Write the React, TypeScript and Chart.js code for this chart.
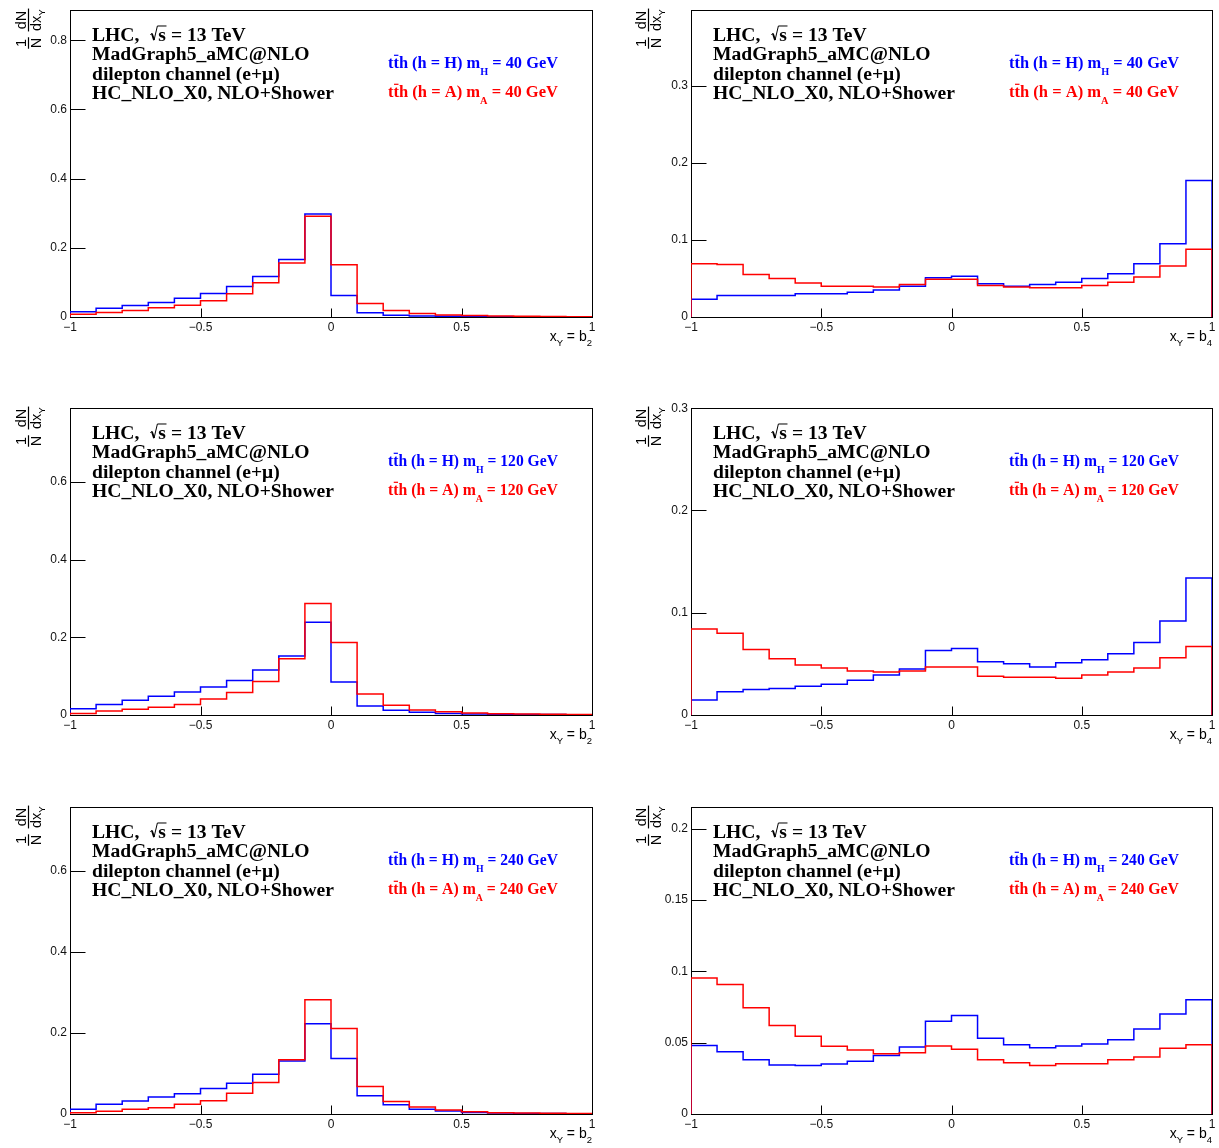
import React, { useEffect, useRef } from 'react';
import { Chart, registerables } from 'chart.js';

Chart.register(...registerables);

// ---------- data ----------
const BIN_EDGES = [-1, -0.9, -0.8, -0.7, -0.6, -0.5, -0.4, -0.3, -0.2, -0.1, 0, 0.1, 0.2, 0.3, 0.4, 0.5, 0.6, 0.7, 0.8, 0.9, 1];

const X_TICKS = [-1, -0.5, 0, 0.5, 1];
const X_TICK_LABELS = ['\u22121', '\u22120.5', '0', '0.5', '1'];

// b2, m = 40 GeV
const B2_M40_H = [0.015, 0.025, 0.033, 0.042, 0.054, 0.068, 0.088, 0.117, 0.166, 0.298, 0.062, 0.012, 0.005, 0.003, 0.002, 0.001, 0.001, 0.0005, 0.0005, 0.0003];
const B2_M40_A = [0.008, 0.013, 0.019, 0.027, 0.034, 0.047, 0.067, 0.099, 0.156, 0.291, 0.151, 0.039, 0.019, 0.010, 0.006, 0.004, 0.003, 0.002, 0.0015, 0.001];
// b4, m = 40 GeV
const B4_M40_H = [0.023, 0.028, 0.028, 0.028, 0.030, 0.030, 0.032, 0.035, 0.040, 0.051, 0.053, 0.043, 0.040, 0.042, 0.045, 0.050, 0.056, 0.069, 0.095, 0.177];
const B4_M40_A = [0.069, 0.068, 0.055, 0.050, 0.044, 0.040, 0.040, 0.039, 0.042, 0.049, 0.049, 0.041, 0.039, 0.038, 0.038, 0.041, 0.045, 0.052, 0.066, 0.088];
// b2, m = 120 GeV
const B2_M120_H = [0.016, 0.027, 0.038, 0.048, 0.059, 0.072, 0.089, 0.116, 0.152, 0.239, 0.085, 0.023, 0.012, 0.007, 0.004, 0.0025, 0.0015, 0.001, 0.001, 0.0005];
const B2_M120_A = [0.004, 0.010, 0.015, 0.020, 0.027, 0.041, 0.058, 0.086, 0.145, 0.287, 0.187, 0.054, 0.025, 0.013, 0.0085, 0.005, 0.0035, 0.0025, 0.002, 0.001];
// b4, m = 120 GeV
const B4_M120_H = [0.0146, 0.0227, 0.025, 0.026, 0.028, 0.030, 0.034, 0.039, 0.045, 0.063, 0.065, 0.052, 0.050, 0.047, 0.051, 0.054, 0.060, 0.071, 0.092, 0.134];
const B4_M120_A = [0.084, 0.080, 0.064, 0.055, 0.049, 0.046, 0.043, 0.042, 0.043, 0.047, 0.047, 0.038, 0.037, 0.037, 0.036, 0.039, 0.042, 0.046, 0.056, 0.067];
// b2, m = 240 GeV
const B2_M240_H = [0.012, 0.024, 0.032, 0.042, 0.050, 0.063, 0.076, 0.098, 0.131, 0.223, 0.137, 0.045, 0.023, 0.012, 0.0075, 0.004, 0.0025, 0.0015, 0.001, 0.0005];
const B2_M240_A = [0.003, 0.0065, 0.0115, 0.0155, 0.024, 0.033, 0.051, 0.078, 0.134, 0.282, 0.211, 0.068, 0.031, 0.017, 0.010, 0.0057, 0.003, 0.0025, 0.0016, 0.001];
// b4, m = 240 GeV
const B4_M240_H = [0.048, 0.0437, 0.038, 0.0344, 0.034, 0.035, 0.037, 0.041, 0.047, 0.065, 0.069, 0.053, 0.0486, 0.0465, 0.0477, 0.049, 0.052, 0.0595, 0.070, 0.080];
const B4_M240_A = [0.0953, 0.0907, 0.0744, 0.062, 0.0544, 0.0474, 0.0449, 0.0423, 0.043, 0.0477, 0.0453, 0.038, 0.036, 0.034, 0.0353, 0.0353, 0.038, 0.040, 0.046, 0.0486];

const Y_TICKS_08 = [0, 0.2, 0.4, 0.6, 0.8];
const Y_LABELS_08 = ['0', '0.2', '0.4', '0.6', '0.8'];
const Y_TICKS_06 = [0, 0.2, 0.4, 0.6];
const Y_LABELS_06 = ['0', '0.2', '0.4', '0.6'];
const Y_TICKS_03 = [0, 0.1, 0.2, 0.3];
const Y_LABELS_03 = ['0', '0.1', '0.2', '0.3'];
const Y_TICKS_02 = [0, 0.05, 0.1, 0.15, 0.2];
const Y_LABELS_02 = ['0', '0.05', '0.1', '0.15', '0.2'];

const INFO_LINES = ['LHC,', 'MadGraph5_aMC@NLO', 'dilepton channel (e+\u03bc)', 'HC_NLO_X0, NLO+Shower'];

interface PanelCfg {
  col: number;
  row: number;
  hH: number[];
  hA: number[];
  yMax: number;
  yTicks: number[];
  yLabels: string[];
  mass: string;
  obs: string;
}

const PANELS: PanelCfg[] = [
  { col: 0, row: 0, hH: B2_M40_H, hA: B2_M40_A, yMax: 0.887, yTicks: Y_TICKS_08, yLabels: Y_LABELS_08, mass: '40', obs: '2' },
  { col: 1, row: 0, hH: B4_M40_H, hA: B4_M40_A, yMax: 0.398, yTicks: Y_TICKS_03, yLabels: Y_LABELS_03, mass: '40', obs: '4' },
  { col: 0, row: 1, hH: B2_M120_H, hA: B2_M120_A, yMax: 0.79, yTicks: Y_TICKS_06, yLabels: Y_LABELS_06, mass: '120', obs: '2' },
  { col: 1, row: 1, hH: B4_M120_H, hA: B4_M120_A, yMax: 0.3, yTicks: Y_TICKS_03, yLabels: Y_LABELS_03, mass: '120', obs: '4' },
  { col: 0, row: 2, hH: B2_M240_H, hA: B2_M240_A, yMax: 0.758, yTicks: Y_TICKS_06, yLabels: Y_LABELS_06, mass: '240', obs: '2' },
  { col: 1, row: 2, hH: B4_M240_H, hA: B4_M240_A, yMax: 0.215, yTicks: Y_TICKS_02, yLabels: Y_LABELS_02, mass: '240', obs: '4' },
];

// ---------- layout ----------
const COL_LEFT = [0, 620];
const COL_W = [610, 599];
const Y_AXIS_W = [70, 71];
const PAD_RIGHT = [18, 7];
const ROW_TOP = [0, 398, 797];
const CANVAS_H = 351;

const SANS = '"Liberation Sans", Arial, Helvetica, sans-serif';
const SERIF = '"Liberation Serif", "Times New Roman", Times, serif';

interface Seg { t: string; sub?: boolean; bar?: boolean; sqrt?: boolean }
interface RichOpts {
  size: number; subSize: number; subDy: number; family: string; weight: string; color: string;
  width?: number; align?: 'left' | 'right';
}

function drawRich(ctx: CanvasRenderingContext2D, segs: Seg[], x: number, y: number, o: RichOpts) {
  const fm = `${o.weight} ${o.size}px ${o.family}`;
  const fs = `${o.weight} ${o.subSize}px ${o.family}`;
  const S = o.size;
  const radW = 0.47 * S;
  const widths = segs.map((s) => {
    ctx.font = s.sub ? fs : fm;
    return ctx.measureText(s.t).width + (s.sqrt ? radW : 0);
  });
  const total = widths.reduce((p, c) => p + c, 0);
  const k = o.width ? o.width / total : 1;
  const startX = o.align === 'right' ? x - total * k : x;
  ctx.save();
  ctx.translate(startX, y);
  ctx.scale(k, 1);
  ctx.fillStyle = o.color;
  ctx.strokeStyle = o.color;
  ctx.textAlign = 'left';
  ctx.textBaseline = 'alphabetic';
  let cx = 0;
  segs.forEach((s, i) => {
    ctx.font = s.sub ? fs : fm;
    let tx = cx;
    if (s.sqrt) {
      const o0 = cx + 0.06 * S;
      ctx.lineCap = 'butt';
      ctx.beginPath();
      ctx.lineWidth = 1;
      ctx.moveTo(o0, -0.30 * S);
      ctx.lineTo(o0 + 0.08 * S, -0.36 * S);
      ctx.stroke();
      ctx.beginPath();
      ctx.lineWidth = 1.8;
      ctx.moveTo(o0 + 0.08 * S, -0.36 * S);
      ctx.lineTo(o0 + 0.19 * S, -0.02 * S);
      ctx.stroke();
      ctx.beginPath();
      ctx.lineWidth = 1;
      ctx.moveTo(o0 + 0.19 * S, -0.02 * S);
      ctx.lineTo(o0 + 0.36 * S, -0.74 * S);
      ctx.lineTo(cx + widths[i] + 0.5, -0.74 * S);
      ctx.stroke();
      tx = cx + radW;
    }
    ctx.fillText(s.t, tx, s.sub ? o.subDy : 0);
    if (s.bar) ctx.fillRect(tx + 0.5, -0.8 * S, widths[i] - 1, 1.2);
    cx += widths[i];
  });
  ctx.restore();
}

function histPoints(values: number[]) {
  const pts = [{ x: BIN_EDGES[0], y: 0 }];
  values.forEach((v, i) => pts.push({ x: BIN_EDGES[i], y: v }));
  pts.push({ x: BIN_EDGES[values.length], y: 0 });
  return pts;
}

function makeDeco(cfg: PanelCfg) {
  return {
    id: 'deco',
    beforeDatasetsDraw(chart: any) {
      const { ctx, chartArea: a, scales } = chart;
      ctx.save();
      ctx.strokeStyle = '#000';
      ctx.lineWidth = 1;
      const l = Math.round(a.left) + 0.5;
      const t = Math.round(a.top) + 0.5;
      const r = Math.round(a.right) + 0.5;
      const b = Math.round(a.bottom) + 0.5;
      ctx.strokeRect(l, t, r - l, b - t);
      ctx.beginPath();
      cfg.yTicks.forEach((v) => {
        const py = Math.round(scales.y.getPixelForValue(v)) + 0.5;
        ctx.moveTo(l, py);
        ctx.lineTo(l + 15, py);
      });
      X_TICKS.forEach((v) => {
        const px = Math.round(scales.x.getPixelForValue(v)) + 0.5;
        ctx.moveTo(px, b);
        ctx.lineTo(px, b - 9);
      });
      ctx.stroke();
      ctx.restore();
    },
    afterDraw(chart: any) {
      const { ctx, chartArea: a } = chart;
      ctx.save();
      // info block
      const ix = a.left + 22;
      const infoOpts = { size: 19.6, subSize: 12, subDy: 6, family: SERIF, weight: 'bold', color: '#000' };
      drawRich(ctx, [{ t: INFO_LINES[0] + '  ' }, { t: 's', sqrt: true }, { t: ' = 13 TeV' }], ix, 40.5, infoOpts);
      [1, 2, 3].forEach((i) => {
        drawRich(ctx, [{ t: INFO_LINES[i] }], ix, 40.5 + i * 19.6, infoOpts);
      });
      // legend
      const lx = a.left + 318;
      const legOpts = { size: 16, subSize: 10, subDy: 7.5, family: SERIF, weight: 'bold', width: 170 };
      drawRich(ctx, [{ t: 't' }, { t: 't', bar: true }, { t: 'h (h = H) m' }, { t: 'H', sub: true }, { t: ' = ' + cfg.mass + ' GeV' }],
        lx, 67.5, { ...legOpts, color: '#0000ff' });
      drawRich(ctx, [{ t: 't' }, { t: 't', bar: true }, { t: 'h (h = A) m' }, { t: 'A', sub: true }, { t: ' = ' + cfg.mass + ' GeV' }],
        lx, 96.5, { ...legOpts, color: '#ff0000' });
      // x-axis title
      drawRich(ctx, [{ t: 'x' }, { t: 'Y', sub: true }, { t: ' = b' }, { t: cfg.obs, sub: true }], a.right, 341,
        { size: 14, subSize: 9.5, subDy: 4.5, family: SANS, weight: 'normal', color: '#000', align: 'right' });
      // y-axis title (rotated fraction)
      const bx = 28.5;
      const F = 14.5;
      const cap = 0.716 * F;
      ctx.translate(bx, 0);
      ctx.rotate(-Math.PI / 2);
      ctx.fillStyle = '#000';
      ctx.textBaseline = 'alphabetic';
      ctx.textAlign = 'center';
      ctx.font = `${F}px ${SANS}`;
      const c1 = -43;
      const c2 = -20;
      ctx.fillText('1', c1, -2.5);
      ctx.fillText('N', c1, 2.5 + cap);
      const wN = ctx.measureText('N').width;
      ctx.fillRect(c1 - wN / 2 - 0.5, -0.6, wN + 1, 1.2);
      ctx.fillText('dN', c2, -2.5);
      const wdx = ctx.measureText('dx').width;
      ctx.font = `${F * 0.68}px ${SANS}`;
      const wY = ctx.measureText('Y').width;
      const wTot = wdx + wY;
      const st = c2 - wTot / 2;
      ctx.textAlign = 'left';
      ctx.font = `${F}px ${SANS}`;
      ctx.fillText('dx', st, 2.5 + cap);
      ctx.font = `${F * 0.68}px ${SANS}`;
      ctx.fillText('Y', st + wdx, 2.5 + cap + 3.5);
      ctx.fillRect(st - 0.5, -0.6, wTot + 1, 1.2);
      ctx.restore();
    },
  };
}

function PanelChart({ cfg }: { cfg: PanelCfg }) {
  const ref = useRef<HTMLCanvasElement>(null);
  const w = COL_W[cfg.col];
  useEffect(() => {
    if (!ref.current) return;
    const chart = new Chart(ref.current, {
      type: 'line',
      data: {
        datasets: [
          {
            data: histPoints(cfg.hA),
            borderColor: '#ff0000',
            borderWidth: 1.5,
            stepped: 'before',
            pointRadius: 0,
            fill: false,
            tension: 0,
          },
          {
            data: histPoints(cfg.hH),
            borderColor: '#0000ff',
            borderWidth: 1.5,
            stepped: 'before',
            pointRadius: 0,
            fill: false,
            tension: 0,
          },
        ],
      },
      options: {
        responsive: false,
        maintainAspectRatio: false,
        animation: false,
        events: [],
        layout: { padding: { top: 8, right: PAD_RIGHT[cfg.col], left: 0, bottom: 0 } },
        plugins: { legend: { display: false }, tooltip: { enabled: false } },
        scales: {
          x: {
            type: 'linear',
            min: -1,
            max: 1,
            afterBuildTicks: (s: any) => { s.ticks = X_TICKS.map((v) => ({ value: v })); },
            afterFit: (s: any) => { s.height = CANVAS_H - 317; },
            grid: { display: false, drawTicks: false },
            border: { display: false },
            ticks: {
              autoSkip: false,
              maxRotation: 0,
              padding: 3,
              color: '#111',
              font: { family: SANS, size: 12 },
              callback: (_v: any, i: number) => X_TICK_LABELS[i],
            },
          },
          y: {
            type: 'linear',
            min: 0,
            max: cfg.yMax,
            afterBuildTicks: (s: any) => { s.ticks = cfg.yTicks.map((v) => ({ value: v })); },
            afterFit: (s: any) => { s.width = Y_AXIS_W[cfg.col]; },
            grid: { display: false, drawTicks: false },
            border: { display: false },
            ticks: {
              padding: 3,
              color: '#111',
              font: { family: SANS, size: 12 },
              callback: (_v: any, i: number) => cfg.yLabels[i],
            },
          },
        },
      } as any,
      plugins: [makeDeco(cfg)],
    });
    return () => chart.destroy();
  }, [cfg]);
  return (
    <canvas
      ref={ref}
      width={w}
      height={CANVAS_H}
      style={{ position: 'absolute', left: COL_LEFT[cfg.col], top: ROW_TOP[cfg.row], width: w, height: CANVAS_H }}
    />
  );
}

export default function App() {
  return (
    <div style={{ position: 'absolute', left: 0, top: 0, width: 1219, height: 1148, background: '#fff', overflow: 'hidden' }}>
      {PANELS.map((p, i) => (
        <PanelChart key={i} cfg={p} />
      ))}
    </div>
  );
}
